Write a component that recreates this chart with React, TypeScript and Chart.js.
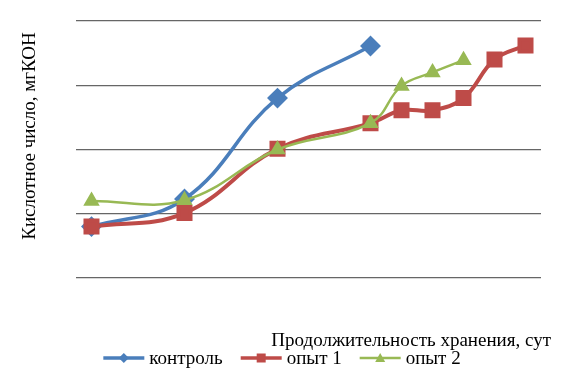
import React, { useEffect, useRef } from "react";
import { Chart, registerables } from "chart.js";

Chart.register(...registerables);

// storage days
const controlDays = [0, 3, 6, 9];
const trial1Days = [0, 3, 6, 9, 10, 11, 12, 13, 14];
const trial2Days = [0, 3, 6, 9, 10, 11, 12];

// acid number (relative units, gridline step = 1)
const controlValues = [0.8, 1.23, 2.8, 3.61];
const trial1Values = [0.8, 1.01, 2.01, 2.41, 2.61, 2.61, 2.8, 3.4, 3.62];
const trial2Values = [1.2, 1.21, 2.0, 2.41, 2.99, 3.2, 3.39];

const seriesLabels = ["контроль", "опыт 1", "опыт 2"];
const yTitle = "Кислотное число, мгКОН";
const xTitle = "Продолжительность хранения, сут";

const FONT = "'Liberation Serif', 'Times New Roman', serif";
const FS = 19;

const BLUE = "#4a7ebb";
const RED = "#be4b48";
const GREEN = "#98b954";

function toXY(xs: number[], ys: number[]) {
  return xs.map((x, i) => ({ x, y: ys[i] }));
}

function drawMarker(g: CanvasRenderingContext2D, kind: string, cx: number, cy: number) {
  g.beginPath();
  if (kind === "diamond") {
    g.moveTo(cx, cy - 5); g.lineTo(cx + 5, cy); g.lineTo(cx, cy + 5); g.lineTo(cx - 5, cy);
  } else if (kind === "square") {
    g.rect(cx - 4.5, cy - 4.5, 9, 9);
  } else {
    g.moveTo(cx, cy - 5); g.lineTo(cx + 5, cy + 4); g.lineTo(cx - 5, cy + 4);
  }
  g.closePath();
  g.fill();
}

const legendPlugin = {
  id: "customLegend",
  afterDraw(chart: any) {
    const { ctx } = chart;
    const datasets = chart.data.datasets;
    const kinds = ["diamond", "square", "triangle"];
    const lineW = 41, gapText = 5, gapItem = 18;
    ctx.save();
    ctx.font = `${FS}px ${FONT}`;
    const widths = datasets.map((d: any) => ctx.measureText(d.label).width);
    const total = widths.reduce((a: number, w: number) => a + lineW + gapText + w, 0) + gapItem * (datasets.length - 1);
    let x = 282 - total / 2;
    const y = 358;
    datasets.forEach((d: any, i: number) => {
      ctx.strokeStyle = d.borderColor;
      ctx.fillStyle = d.borderColor;
      ctx.lineWidth = i === 2 ? 2.5 : 3.5;
      ctx.beginPath();
      ctx.moveTo(x, y);
      ctx.lineTo(x + lineW, y);
      ctx.stroke();
      drawMarker(ctx, kinds[i], x + lineW / 2, y);
      ctx.fillStyle = "#000";
      ctx.textAlign = "left";
      ctx.textBaseline = "middle";
      ctx.fillText(d.label, x + lineW + gapText, y + 1);
      x += lineW + gapText + widths[i] + gapItem;
    });
    ctx.restore();
  },
};

const titlesPlugin = {
  id: "axisTitles",
  afterDraw(chart: any) {
    const { ctx } = chart;
    ctx.save();
    ctx.fillStyle = "#000";
    ctx.font = `${FS}px ${FONT}`;
    ctx.textBaseline = "middle";
    ctx.textAlign = "right";
    ctx.fillText(xTitle, 551, 341);
    ctx.translate(30, 136);
    ctx.rotate(-Math.PI / 2);
    ctx.textAlign = "center";
    ctx.fillText(yTitle, 0, 0);
    ctx.restore();
  },
};

export default function App() {
  const ref = useRef<HTMLCanvasElement>(null);
  useEffect(() => {
    const chart = new Chart(ref.current!, {
      type: "line",
      data: {
        datasets: [
          {
            label: seriesLabels[0],
            data: toXY(controlDays, controlValues),
            borderColor: BLUE,
            backgroundColor: BLUE,
            borderWidth: 3.5,
            pointStyle: "rectRot",
            pointRadius: 8,
            tension: 0.4,
            order: 2,
          },
          {
            label: seriesLabels[1],
            data: toXY(trial1Days, trial1Values),
            borderColor: RED,
            backgroundColor: RED,
            borderWidth: 4,
            pointStyle: "rect",
            pointRadius: 8.5,
            tension: 0.4,
            order: 1,
          },
          {
            label: seriesLabels[2],
            data: toXY(trial2Days, trial2Values),
            borderColor: GREEN,
            backgroundColor: GREEN,
            borderWidth: 2.5,
            pointStyle: "triangle",
            pointRadius: 7,
            tension: 0.4,
            order: 0,
          },
        ],
      },
      options: {
        responsive: false,
        animation: false,
        layout: { padding: { left: 76, right: 20, top: 21, bottom: 110 } },
        scales: {
          x: {
            type: "linear",
            min: -0.5,
            max: 14.5,
            ticks: { display: false },
            grid: { display: false, drawTicks: false },
            border: { display: false },
            afterFit: (s: any) => { s.height = 0; },
          },
          y: {
            min: 0,
            max: 4,
            ticks: { display: false, stepSize: 1 },
            grid: { color: "#666666", lineWidth: 1.3, drawTicks: false },
            border: { display: false },
            afterFit: (s: any) => { s.width = 0; },
          },
        },
        plugins: {
          tooltip: { enabled: false },
          legend: { display: false },
        },
      },
      plugins: [titlesPlugin, legendPlugin],
    });
    return () => chart.destroy();
  }, []);
  return (
    <div style={{ position: "absolute", left: 0, top: 0, width: 561, height: 388, background: "#fff" }}>
      <canvas ref={ref} width={561} height={388} style={{ display: "block" }} />
    </div>
  );
}
